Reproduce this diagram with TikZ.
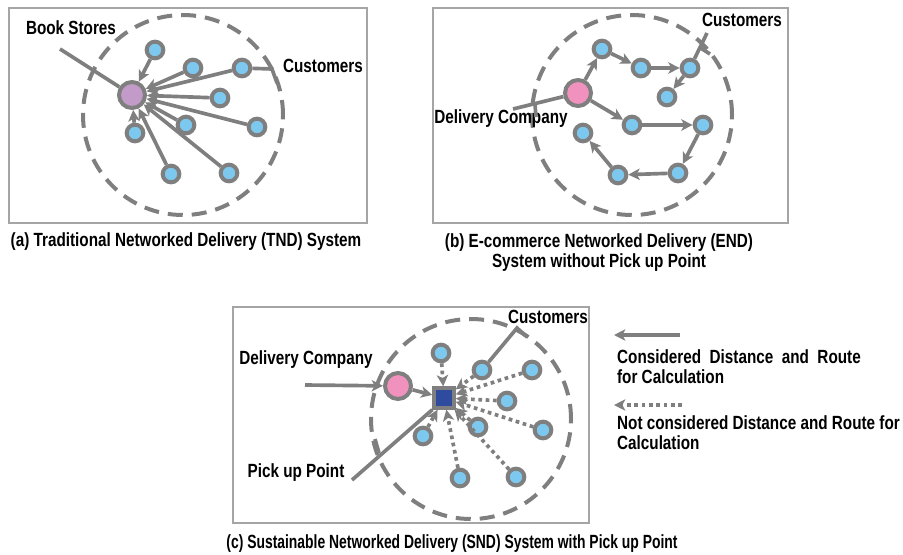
\documentclass[tikz,border=0pt]{standalone}
\usepackage{fontspec}
\setmainfont{Liberation Sans}[FakeStretch=0.8]
\usetikzlibrary{arrows.meta}

\definecolor{linegray}{RGB}{127,127,127}
\definecolor{framegray}{RGB}{165,165,165}
\definecolor{custblue}{RGB}{125,200,238}
\definecolor{storepurple}{RGB}{195,155,200}
\definecolor{compink}{RGB}{240,145,190}
\definecolor{depotblue}{RGB}{46,75,160}

\begin{document}
\begin{tikzpicture}[x=0.03cm, y=-0.03cm,
  font=\fontsize{16.3pt}{17pt}\selectfont\bfseries,
  cust/.style={circle, draw=linegray, line width=0.12cm, fill=custblue, minimum size=0.5cm, inner sep=0pt},
  hub/.style={circle, draw=linegray, line width=0.12cm, minimum size=0.78cm, inner sep=0pt},
  depot/.style={rectangle, draw=linegray, line width=0.12cm, fill=depotblue, minimum size=0.58cm, inner sep=0pt},
  frame/.style={draw=framegray, line width=0.07cm},
  zone/.style={draw=linegray, line width=0.12cm, dash pattern=on 0.45cm off 0.27cm},
  route/.style={draw=linegray, line width=0.11cm, -{Stealth[length=3.4mm, width=3.4mm, inset=0.9mm]}},
  skip/.style={route, dash pattern=on 0.11cm off 0.11cm},
  lead/.style={draw=linegray, line width=0.11cm}]
\useasboundingbox (0,0) rectangle (903,554);

% (a) traditional
\draw[frame] (9,8) rectangle (367,223);
\draw[zone] (183,115) circle[radius=3cm];
\node[hub, fill=storepurple] (bs) at (132,95) {};
\node[cust] (a1) at (155,50) {};
\node[cust] (a2) at (193,68) {};
\node[cust] (a3) at (242,68) {};
\node[cust] (a4) at (220,98) {};
\node[cust] (a5) at (257,127) {};
\node[cust] (a6) at (186,125) {};
\node[cust] (a7) at (135,133) {};
\node[cust] (a8) at (171,174) {};
\node[cust] (a9) at (229,173) {};
\foreach \i in {1,...,9}
  \draw[route] (a\i) -- (bs);
\node (bslabel) at (71,28) {Book Stores};
\coordinate (bsend) at (60,49);
\draw[lead] (bsend) -- (bs);
\node (acust) at (323,66) {Customers};
\coordinate (acu) at (272,69);
\coordinate (acut) at (277,83);
\draw[lead] (a3) -- (acu) -- (acut);
\node[align=center] (capa) at (186,242) {(a) Traditional Networked Delivery (TND) System};

% (b) e-commerce
\draw[frame] (433,8) rectangle (788,223);
\draw[zone] (632,115) circle[radius=3cm];
\node[hub, fill=compink] (bc) at (578,93) {};
\node[cust] (b1) at (602,49) {};
\node[cust] (b2) at (641,68) {};
\node[cust] (b3) at (690,68) {};
\node[cust] (b4) at (667,97) {};
\node[cust] (b5) at (632,125) {};
\node[cust] (b6) at (703,125) {};
\node[cust] (b7) at (678,173) {};
\node[cust] (b8) at (618,175) {};
\node[cust] (b9) at (583,133) {};
\draw[route] (bc) -- (b1);
\draw[route] (b1) -- (b2);
\draw[route] (b2) -- (b3);
\draw[route] (b3) -- (b4);
\draw[route] (bc) -- (b5);
\draw[route] (b5) -- (b6);
\draw[route] (b6) -- (b7);
\draw[route] (b7) -- (b8);
\draw[route] (b8) -- (b9);
\node (bdc) at (501,119) {Delivery Company};
\coordinate (bdcend) at (513,109);
\draw[lead] (bdcend) -- (bc);
\draw[lead] (535,105) -- (536,117);
\node (bcust) at (742,20) {Customers};
\coordinate (bcu) at (707,33);
\draw[lead] (b3) -- (bcu);
\draw[lead] (699,47) -- (710,54);
\node[align=center] (capb) at (599,253) {(b) E-commerce Networked Delivery (END)\\System without Pick up Point};

% (c) sustainable
\draw[frame] (233,307) rectangle (589,523);
\draw[zone] (471,419) circle[radius=3cm];
\node[hub, fill=compink] (cc) at (398,386) {};
\node[depot] (pp) at (444,398) {};
\node[cust] (c1) at (441,353) {};
\node[cust] (c2) at (482,370) {};
\node[cust] (c3) at (532,370) {};
\node[cust] (c4) at (507,401) {};
\node[cust] (c5) at (543,430) {};
\node[cust] (c6) at (478,427) {};
\node[cust] (c7) at (423,436) {};
\node[cust] (c8) at (460,478) {};
\node[cust] (c9) at (516,477) {};
\foreach \i in {1,...,9}
  \draw[skip] (c\i) -- (pp);
\node (cdc) at (306,360) {Delivery Company};
\coordinate (cdcin) at (305,385);
\draw[route] (cdcin) -- (cc);
\draw[route] (cc) -- (pp);
\node (cpp) at (296,473) {Pick up Point};
\coordinate (ppend) at (352,480);
\draw[lead] (ppend) -- (pp.south west);
\draw[lead] (379,453) -- (375,439);
\node (ccust) at (548,317) {Customers};
\coordinate (ccu) at (517,328);
\draw[lead] (c2) -- (ccu) -- (527,337);
\node (capc) at (452,544) {\scalebox{0.91}[1]{(c) Sustainable Networked Delivery (SND) System with Pick up Point}};

% legend
\coordinate (l1a) at (680,335);
\coordinate (l1b) at (614,335);
\draw[route] (l1a) -- (l1b);
\node[anchor=west, align=left] (l1) at (613,367) {Considered~~Distance~~and~~Route\\for Calculation};
\coordinate (l2a) at (682,405);
\coordinate (l2b) at (614,405);
\draw[skip] (l2a) -- (l2b);
\node[anchor=west, align=left] (l2) at (613,433) {Not considered Distance and Route for\\Calculation};
\end{tikzpicture}
\end{document}
